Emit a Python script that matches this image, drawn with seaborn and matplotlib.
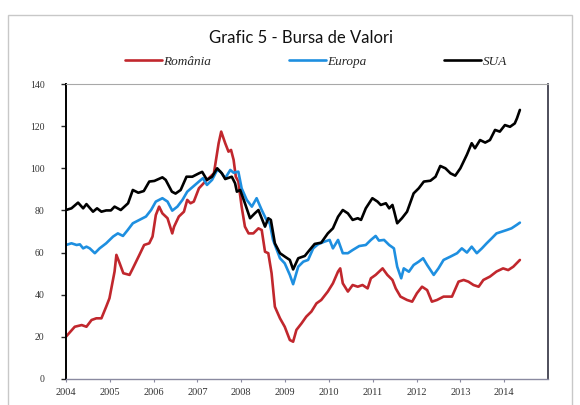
import numpy as np
import pandas as pd
import matplotlib
matplotlib.use("Agg")
import matplotlib.pyplot as plt
from matplotlib.patches import Rectangle
import seaborn as sns

# Months since Jan 2004 and index values
ro_month = [0, 2.4, 4.3, 5.6, 7, 8.3, 9.7, 11, 11.9, 13.3, 13.8, 14.7, 15.7, 17.4, 18.3,
            20.1, 21.4, 22.8, 23.7, 24.6, 25.5, 26.4, 27.8, 29.1, 29.6, 30.9, 32.3, 33.2,
            34.1, 35, 36.4, 37.7, 39.1, 40.5, 41.8, 42.5, 43.6, 44.5, 45.2, 45.9, 46.5,
            47.2, 48.1, 49, 50, 51.3, 52.7, 53.6, 54.5, 55.4, 56.3, 57.2, 58.6, 59.9,
            61.3, 62.2, 63.1, 64.5, 65.8, 67.2, 68.6, 69.9, 71.7, 73.1, 74.5, 75.1, 75.8,
            77.2, 78.5, 79.9, 81.2, 82.6, 83.5, 84.8, 86.7, 88, 89.4, 90.3, 91.6, 93.4,
            94.8, 96.1, 97.5, 98.9, 100.2, 101.6, 103.4, 105.7, 107.5, 108.9, 110.2,
            111.6, 113, 114.3, 116.1, 117.9, 119.7, 121.1, 122.5, 124.3]
ro_value = [20.1, 24.8, 25.6, 24.8, 28, 28.8, 28.8, 34.3, 38.3, 51, 58.9, 54.9, 50.2, 49.4, 52.5,
            58.9, 63.6, 64.4, 67.6, 77.8, 81.8, 78.6, 76.3, 69.1, 72.3, 77.1, 79.4, 85,
            83.4, 84.2, 90.5, 92.9, 95.3, 97.6, 111.9, 117.4, 111.9, 107.9, 108.7, 104, 96,
            93.7, 81.8, 72.3, 69.1, 69.1, 71.5, 70.7, 60.4, 59.7, 50.2, 34.3, 28.8, 24.8,
            18.5, 17.7, 23.3, 26.4, 29.6, 32, 35.9, 37.5, 41.5, 45.4, 51, 52.5, 45.4,
            41.5, 44.6, 43.8, 44.6, 43, 47.8, 49.4, 52.5, 49.4, 47, 43, 39.1, 37.5,
            36.7, 40.7, 43.8, 42.2, 36.7, 37.5, 39.1, 39.1, 46.2, 47, 46.2,
            44.6, 43.8, 47, 48.6, 51, 52.5, 51.7, 53.3, 56.5]

eu_month = [0, 1.5, 2.9, 3.8, 4.7, 5.6, 6.5, 7.9, 9.2, 11, 12.9, 14.2, 15.6, 16.9, 18.3,
            20.1, 21.9, 23.3, 24.6, 26.4, 27.8, 29.1, 30.5, 31.9, 33.2, 34.6, 36.4, 37.5,
            38.6, 40, 41.4, 42.3, 43.6, 45, 45.9, 47.2, 48.1, 49.5, 50.9, 52.2, 53.6,
            54.9, 55.8, 56.7, 58.6, 59.9, 61.3, 62.2, 63.6, 65, 66.3, 67.7, 69, 70.8,
            72.2, 73.1, 74.5, 75.8, 77.2, 78.5, 80.3, 82.1, 83.5, 84.8, 85.7, 87.1, 88.5,
            89.8, 90.7, 91.8, 92.5, 93.9, 95.2, 96.6, 97.8, 98.9, 100.7, 102, 103.4,
            105.3, 107.1, 108.4, 109.8, 111.1, 112.5, 113.9, 115.2, 116.6, 117.9, 119.3,
            120.7, 122, 123.4, 124.3]
eu_value = [63.6, 64.4, 63.6, 63.9, 62, 62.8, 62, 59.7, 62, 64.4, 67.6, 69.1, 67.9, 70.7, 73.9,
            75.5, 77.1, 80.2, 84.2, 85.8, 84.2, 79.9, 81.8, 85, 88.9, 91, 93.7, 95.3,
            92.1, 94.5, 99.2, 98.4, 95.3, 99.2, 97.9, 98.4, 90.5, 85, 81.8, 85.8, 80.2,
            75.5, 73.9, 66, 57.3, 54.9, 49.4, 45, 53.3, 55.7, 56.5, 62, 63.9, 65.2,
            66, 62, 66, 59.7, 59.7, 61.2, 63.1, 63.6, 66, 67.9, 65.7, 66, 63.6,
            62, 53.3, 47.8, 52.5, 50.9, 54.1, 55.7, 57.3, 54.1, 49.4, 52.5, 56.5,
            58.1, 59.7, 62, 60, 62.8, 59.7, 62, 64.4, 66.8, 69.1, 69.9,
            70.7, 71.5, 73.1, 74.2]

us_month = [0, 1.5, 3.3, 4.7, 5.6, 7.4, 8.5, 9.7, 11, 12.3, 13.3, 15, 17, 18.3, 19.8, 21.3,
            22.8, 24.2, 26.4, 27.3, 29, 30, 31.4, 33, 34.6, 36.4, 37.3, 38.6, 40, 41.4,
            42.7, 43.6, 45.4, 46.3, 46.8, 47.7, 49, 50.4, 51.7, 52.7, 54.5, 55.4, 56.1,
            57.2, 58.6, 60, 61.3, 62.2, 63.6, 65.4, 66.7, 68.1, 69.9, 71.7, 73.1, 74.5,
            75.8, 77.2, 78.5, 79.9, 80.8, 82.1, 83.9, 85.3, 86.2, 87.6, 88.5, 89.4, 89.9,
            90.7, 92, 93.4, 95.2, 96.6, 98, 99.8, 101.2, 102.5, 103.9, 105.3, 106.6, 108,
            109.8, 111.1, 112, 113.4, 114.8, 116.1, 117.5, 118.8, 120.2, 121.6, 122.9,
            123.5, 124.3]
us_value = [80.2, 81, 83.7, 81, 83, 79.4, 81, 79.4, 80, 80, 81.8, 80.2, 83.4, 89.7, 88.4, 89.2,
            93.7, 94, 95.7, 94.5, 88.9, 88, 89.7, 96, 96, 97.6, 98.3, 94.5, 96, 100,
            97.6, 94.9, 96, 92.9, 88.9, 89.7, 83.4, 76.3, 78.6, 80.2, 72.3, 76.3, 75.5,
            64.4, 59.7, 58, 56.5, 52, 57.3, 58.4, 61.2, 64.1, 64.7, 69.1, 71.5, 77,
            80.2, 78.6, 75.5, 76.3, 75.5, 81, 85.8, 84.2, 82.6, 83.4, 81, 82.6, 79.4,
            73.9, 76.3, 79.4, 88.1, 90.5, 93.7, 94.1, 96, 101.1, 100, 97.6, 96.5, 100,
            106.5, 111.9, 109.5, 113.4, 112.2, 113.4, 118.2, 117.4, 120.5, 119.7, 121.3,
            123.7, 127.7]

series_names = ["România", "Europa", "SUA"]
series_colors = ["#c1272d", "#1e8fe0", "#000000"]
year_ticks = list(range(2004, 2015))

frames = []
for name, months, values in zip(series_names, [ro_month, eu_month, us_month],
                                [ro_value, eu_value, us_value]):
    frames.append(pd.DataFrame({"an": 2004 + np.array(months) / 12.0,
                                "valoare": values, "serie": name}))
df = pd.concat(frames, ignore_index=True)

sns.set_style("white")
fig = plt.figure(figsize=(5.8, 4.05), dpi=100)
ax = fig.add_axes([66 / 580, 1 - 379 / 405, (548 - 66) / 580, (379 - 84) / 405])

sns.lineplot(data=df, x="an", y="valoare", hue="serie", hue_order=series_names,
             palette=dict(zip(series_names, series_colors)), estimator=None,
             sort=False, linewidth=1.9, ax=ax)

ax.set_xlim(2004, 2015)
ax.set_ylim(0, 140)
ax.set_xticks(year_ticks)
ax.set_xticklabels([str(y) for y in year_ticks], family="Liberation Serif", fontsize=7.5,
                   color="#333333")
ax.set_yticks(range(0, 141, 20))
ax.set_yticklabels([str(v) for v in range(0, 141, 20)], family="Liberation Serif",
                   fontsize=7, color="#333333")
ax.tick_params(axis="y", direction="out", length=3.5, width=1, pad=12, left=True)
ax.tick_params(axis="x", direction="out", length=2.5, width=0.8, pad=4, bottom=True,
               color="#8a8aa0")
ax.set_xlabel("")
ax.set_ylabel("")

for side in ["left", "right", "top", "bottom"]:
    ax.spines[side].set_visible(True)
ax.spines["left"].set_color("black")
ax.spines["left"].set_linewidth(1.4)
ax.spines["bottom"].set_color("#8a8aa0")
ax.spines["bottom"].set_linewidth(1.0)
ax.spines["top"].set_color("#a8a8a8")
ax.spines["top"].set_linewidth(0.8)
ax.spines["right"].set_color("#303040")
ax.spines["right"].set_linewidth(1.2)

fig.text(301 / 580, 1 - 38 / 405, "Grafic 5 - Bursa de Valori", ha="center", va="center",
         family="Lato", fontsize=12, color="#111111")

handles, labels = ax.get_legend_handles_labels()
ax.legend(handles, labels, loc="center", bbox_to_anchor=(316 / 580, 1 - 62 / 405),
          bbox_transform=fig.transFigure, ncol=3, frameon=False,
          prop={"family": "Liberation Serif", "style": "italic", "size": 9.5},
          handlelength=2.8, handletextpad=0.1, columnspacing=5.9)

fig.add_artist(Rectangle((8 / 580, -0.05), 564 / 580, 1 - 15 / 405 + 0.05,
                         transform=fig.transFigure, fill=False, edgecolor="#c8c8c8",
                         linewidth=1))

fig.savefig("out.png", dpi=100)
